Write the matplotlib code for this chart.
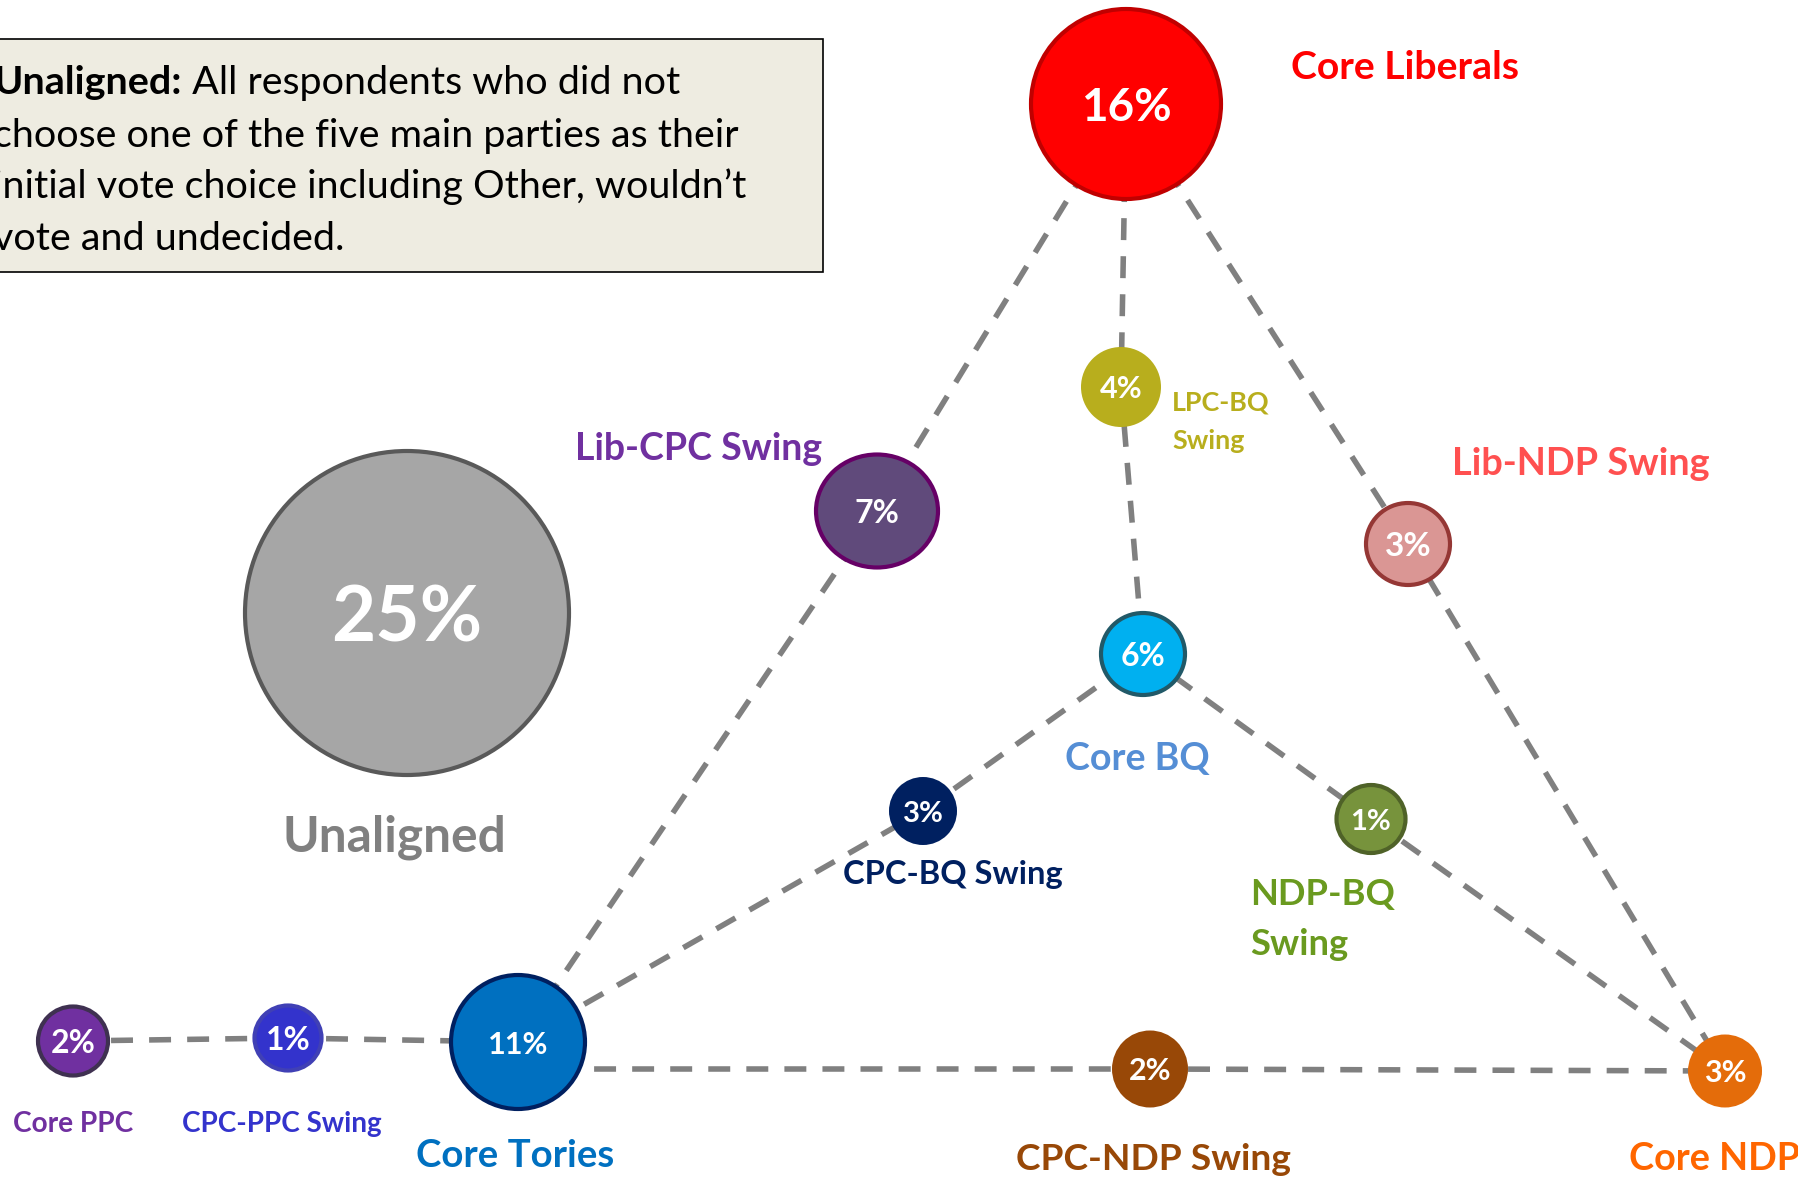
import matplotlib.pyplot as plt
from matplotlib.patches import Ellipse, Rectangle

plt.rcParams['font.family'] = ['Lato', 'DejaVu Sans']

# ---- data ----
groups = ['Core Liberals', 'Lib-CPC Swing', 'LPC-BQ Swing', 'Lib-NDP Swing', 'Unaligned',
          'Core BQ', 'CPC-BQ Swing', 'NDP-BQ Swing', 'Core Tories', 'Core PPC',
          'CPC-PPC Swing', 'CPC-NDP Swing', 'Core NDP']
shares = [16, 7, 4, 3, 25, 6, 3, 1, 11, 2, 1, 2, 3]
labels = ['Core Liberals', 'Lib-CPC Swing', 'LPC-BQ\nSwing', 'Lib-NDP Swing', 'Unaligned',
          'Core BQ', 'CPC-BQ Swing', 'NDP-BQ\nSwing', 'Core Tories', 'Core PPC',
          'CPC-PPC Swing', 'CPC-NDP Swing', 'Core NDP']
links = [('Core Liberals', 'Lib-CPC Swing'), ('Lib-CPC Swing', 'Core Tories'),
         ('Core Liberals', 'LPC-BQ Swing'), ('LPC-BQ Swing', 'Core BQ'),
         ('Core Liberals', 'Lib-NDP Swing'), ('Lib-NDP Swing', 'Core NDP'),
         ('Core Tories', 'CPC-BQ Swing'), ('CPC-BQ Swing', 'Core BQ'),
         ('Core BQ', 'NDP-BQ Swing'), ('NDP-BQ Swing', 'Core NDP'),
         ('Core Tories', 'CPC-NDP Swing'), ('CPC-NDP Swing', 'Core NDP'),
         ('Core PPC', 'CPC-PPC Swing'), ('CPC-PPC Swing', 'Core Tories')]
note_bold = 'Unaligned:'
note_lines = [' All respondents who did not',
              'choose one of the five main parties as their',
              'initial vote choice including Other, wouldn\u2019t',
              'vote and undecided.']

# ---- layout (pixels of the 1798x1177 canvas) ----
centers = [(1126, 104), (877, 511), (1121, 387), (1408, 544), (407, 613),
           (1143, 654), (923, 811), (1371, 819), (518, 1042), (73, 1041),
           (288, 1038), (1150, 1069), (1725, 1071)]
sizes = [(194, 194), (126, 117), (80, 80), (88, 86), (328, 328),
         (88, 86), (68, 68), (73, 72), (138, 138), (74, 73),
         (71, 69), (76, 77), (74, 73)]
fills = ['#FF0000', '#604A7B', '#B8AE1D', '#DA9694', '#A6A6A6',
         '#00B0F0', '#002060', '#77933C', '#0070C0', '#7030A0',
         '#3333CC', '#984807', '#E46C0A']
edges = ['#C00000', '#660066', None, '#953735', '#595959',
         '#215968', None, '#4F6228', '#002060', '#3F3151',
         '#4040B5', None, None]
pct_size = [33, 23, 22, 24, 55, 23, 21, 21, 22, 23, 23, 22, 22]
label_xy = [(1291, 79), (575, 460), (1172, 411), (1452, 475), (283, 851),
            (1065, 770), (843, 884), (1250, 905), (416, 1167), (13, 1132),
            (182, 1132), (1016, 1170), (1629, 1170)]
label_pitch = [0, 0, 38, 0, 0, 0, 0, 50, 0, 0, 0, 0, 0]
label_w = [228, 248, 98, 258, 224, 145, 220, 145, 198, 120, 200, 275, 171]
label_colors = ['#FF0000', '#7030A0', '#B8AE1D', '#FF5050', '#808080',
                '#558ED5', '#002060', '#6A9A1F', '#0070C0', '#7030A0',
                '#3333CC', '#984807', '#FF6600']

fig = plt.figure(figsize=(17.98, 11.77), dpi=100)
ax = fig.add_axes([0, 0, 1, 1])
ax.set_xlim(0, 1798)
ax.set_ylim(1177, 0)
ax.axis('off')

pos = dict(zip(groups, centers))

# dashed connectors
for a, b in links:
    (x1, y1), (x2, y2) = pos[a], pos[b]
    if (a, b) == ('Core Tories', 'CPC-NDP Swing'):
        y1 = y2
    ax.plot([x1, x2], [y1, y2], color='#808080', lw=4.0,
            linestyle=(0, (3.95, 2.9)), dash_capstyle='butt', zorder=1)

# bubbles
for (x, y), (w, h), fc, ec, fs, v in zip(centers, sizes, fills, edges, pct_size, shares):
    if ec is None:
        ax.add_patch(Ellipse((x, y), w, h, facecolor=fc, edgecolor='none', zorder=2))
    else:
        ax.add_patch(Ellipse((x, y), w - 4, h - 4, facecolor=fc, edgecolor=ec, lw=3, zorder=2))
    ax.text(x, y, f'{v}%', color='white', fontsize=fs, fontweight='bold',
            ha='center', va='center_baseline', zorder=3)

# group labels, one text per line
label_texts = []
for (x, y), lab, c, p in zip(label_xy, labels, label_colors, label_pitch):
    parts = [ax.text(x, y + i * p, s, color=c, fontsize=24, fontweight='bold',
                     ha='left', va='baseline', zorder=3)
             for i, s in enumerate(lab.split('\n'))]
    label_texts.append(parts)

# note box
ax.add_patch(Rectangle((-5, 39), 828, 233, facecolor='#EEECE1', edgecolor='black',
                       lw=1.2, zorder=2))
note_y = [94, 147, 198, 250]
tb = ax.text(-7, note_y[0], note_bold, fontsize=26, fontweight='bold', color='black',
             ha='left', va='baseline', zorder=3)
note_texts = [ax.text(-7, y, s, fontsize=26, color='black', ha='left', va='baseline', zorder=3)
              for y, s in zip(note_y, note_lines)]

# fit text widths to the reference
fig.canvas.draw()
r = fig.canvas.get_renderer()
for parts, w in zip(label_texts, label_w):
    widest = max(t.get_window_extent(r).width for t in parts)
    for t in parts:
        t.set_fontsize(t.get_fontsize() * w / widest)
fs_note = 26 * 745 / note_texts[1].get_window_extent(r).width
tb.set_fontsize(fs_note)
for t in note_texts:
    t.set_fontsize(fs_note)
fig.canvas.draw()
note_texts[0].set_x(-7 + tb.get_window_extent(r).width)

fig.savefig('out.png', dpi=100)
